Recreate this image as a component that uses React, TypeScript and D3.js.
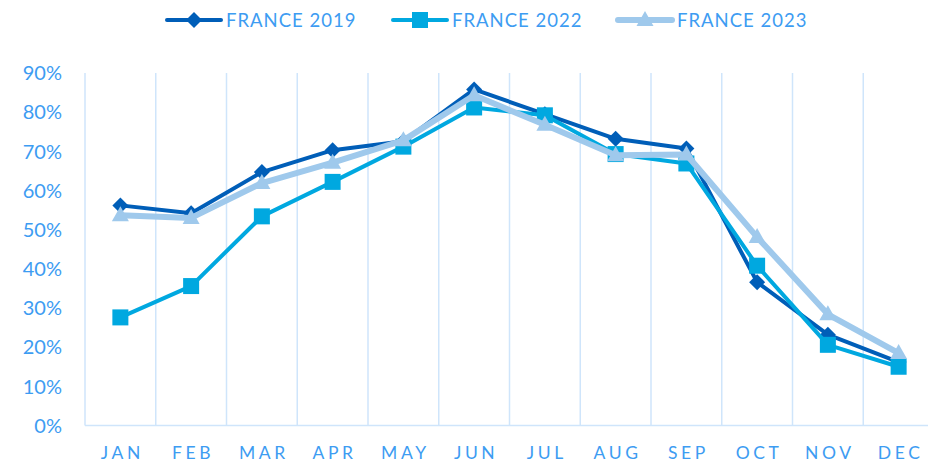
import React from "react";
import * as d3 from "d3";

const months = ["JAN","FEB","MAR","APR","MAY","JUN","JUL","AUG","SEP","OCT","NOV","DEC"];
const france2019 = [0.562,0.542,0.647,0.703,0.726,0.858,0.795,0.732,0.707,0.366,0.232,0.162];
const france2022 = [0.276,0.356,0.534,0.622,0.712,0.812,0.792,0.693,0.669,0.408,0.206,0.150];
const france2023 = [0.537,0.530,0.619,0.671,0.728,0.843,0.768,0.690,0.692,0.481,0.284,0.185];
const yTicks = [0,0.1,0.2,0.3,0.4,0.5,0.6,0.7,0.8,0.9];
const seriesNames = ["FRANCE 2019","FRANCE 2022","FRANCE 2023"];

const W = 928, H = 462;
const TEXT = "#3d9cf2";
const GRID = "#cfe5fb";
const colors = ["#005eb8", "#00a8e0", "#9fc9ec"];
const widths = [4, 4, 6];
const font = "Lato, 'Noto Sans', sans-serif";

function Marker({ kind, x, y, color }: { kind: number; x: number; y: number; color: string }) {
  if (kind === 0) {
    const r = 8;
    return <path d={`M${x},${y - r}L${x + r},${y}L${x},${y + r}L${x - r},${y}Z`} fill={color} />;
  }
  if (kind === 1) {
    const s = 16;
    return <rect x={x - s / 2} y={y - s / 2} width={s} height={s} fill={color} />;
  }
  const w = 17, h = 15;
  return <path d={`M${x},${y - h * 0.6}L${x + w / 2},${y + h * 0.4}L${x - w / 2},${y + h * 0.4}Z`} fill={color} />;
}

export default function App() {
  const left = 85, right = 934, top = 73, bottom = 425.5;
  const x = d3.scaleBand<string>().domain(months).range([left, right]).padding(0);
  const y = d3.scaleLinear().domain([0, 0.9]).range([bottom, top]);
  const line = d3.line<number>().x((_, i) => x(months[i])! + x.bandwidth() / 2).y(d => y(d));
  const data = [france2019, france2022, france2023];
  const legendX = [167, 393, 618];
  const legendY = 20;

  return (
    <svg width={W} height={H} style={{ position: "absolute", left: 0, top: 0, background: "#fff" }} fontFamily={font}>
      {months.map(m => (
        <line key={m} x1={x(m)} x2={x(m)} y1={top} y2={bottom} stroke={GRID} strokeWidth={1.5} />
      ))}
      <line x1={left} x2={W} y1={bottom} y2={bottom} stroke={GRID} strokeWidth={1.5} />
      {yTicks.map(t => (
        <text key={t} x={62} y={y(t)} dy="0.36em" textAnchor="end" fontSize={20} fill={TEXT}>
          {d3.format(".0%")(t)}
        </text>
      ))}
      {months.map(m => (
        <text key={m} x={x(m)! + x.bandwidth() / 2 + 2} y={459} textAnchor="middle" fontSize={17.5} letterSpacing={3.6} fill={TEXT}>
          {m}
        </text>
      ))}
      {data.map((s, k) => (
        <g key={k}>
          <path d={line(s)!} fill="none" stroke={colors[k]} strokeWidth={widths[k]} strokeLinejoin="round" />
          {s.map((v, i) => (
            <Marker key={i} kind={k} x={x(months[i])! + x.bandwidth() / 2} y={y(v)} color={colors[k]} />
          ))}
        </g>
      ))}
      {seriesNames.map((n, k) => (
        <g key={n}>
          <line x1={legendX[k]} x2={legendX[k] + 54} y1={legendY} y2={legendY} stroke={colors[k]} strokeWidth={widths[k]} strokeLinecap="round" />
          <Marker kind={k} x={legendX[k] + 27} y={legendY} color={colors[k]} />
          <text x={legendX[k] + 59} y={legendY} dy="0.36em" fontSize={18.5} letterSpacing={1} fill={TEXT}>{n}</text>
        </g>
      ))}
    </svg>
  );
}
